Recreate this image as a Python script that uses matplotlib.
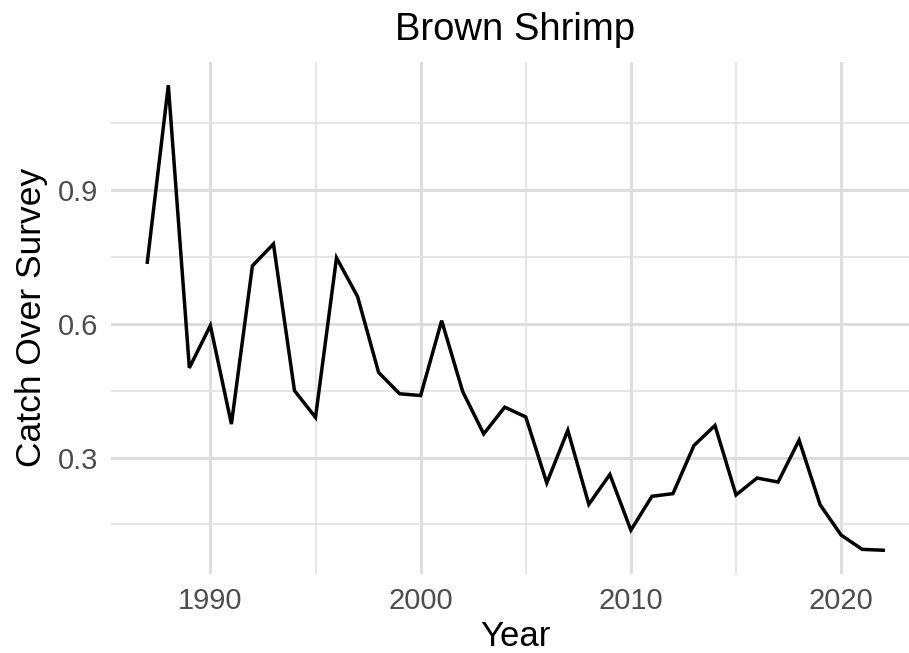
import numpy as np
import matplotlib
matplotlib.use('Agg')
from matplotlib import pyplot as plt
from matplotlib.ticker import MultipleLocator

plt.rcParams['font.family'] = ['Liberation Sans', 'DejaVu Sans']

years = list(range(1987, 2023))
catch_over_survey = [0.738, 1.135, 0.501, 0.596, 0.375, 0.730, 0.779, 0.450, 0.390, 0.748,
                     0.661, 0.491, 0.443, 0.439, 0.607, 0.448, 0.353, 0.413, 0.391, 0.243,
                     0.361, 0.195, 0.262, 0.137, 0.213, 0.219, 0.327, 0.372, 0.216, 0.254,
                     0.245, 0.339, 0.194, 0.126, 0.094, 0.092]
x_ticks = [1990, 2000, 2010, 2020]
y_ticks = [0.3, 0.6, 0.9]

W, H = 909, 653
fig = plt.figure(figsize=(W / 100, H / 100), dpi=100)
# panel in pixels: left 110.5, right 920, top 62, bottom 573.5
ax = fig.add_axes([110.5 / W, (H - 573.5) / H, (920 - 110.5) / W, (573.5 - 62) / H])

ax.plot(years, catch_over_survey, color='black', lw=2.5, solid_joinstyle='miter', zorder=3)
ax.margins(x=0.05, y=0.05)

ax.set_xticks(x_ticks)
ax.set_yticks(y_ticks)
ax.set_yticklabels([f'{v:.1f}' for v in y_ticks])
ax.xaxis.set_minor_locator(MultipleLocator(5))
ax.yaxis.set_minor_locator(MultipleLocator(0.15))

ax.grid(True, which='major', color='#DCDCDC', lw=2.0)
ax.grid(True, which='minor', color='#E2E2E2', lw=1.2)
ax.set_axisbelow(True)
for s in ax.spines.values():
    s.set_visible(False)
ax.tick_params(which='both', length=0)
ax.tick_params(axis='both', labelsize=21, labelcolor='#4D4D4D')
ax.tick_params(axis='x', pad=10)
ax.tick_params(axis='y', pad=9)

ax.set_xlabel('Year', fontsize=25, labelpad=3)
ax.set_ylabel('Catch Over Survey', fontsize=25.5, labelpad=7)
ax.set_title('Brown Shrimp', fontsize=27.5, pad=16)

fig.savefig('out.png', dpi=100, facecolor='white')
